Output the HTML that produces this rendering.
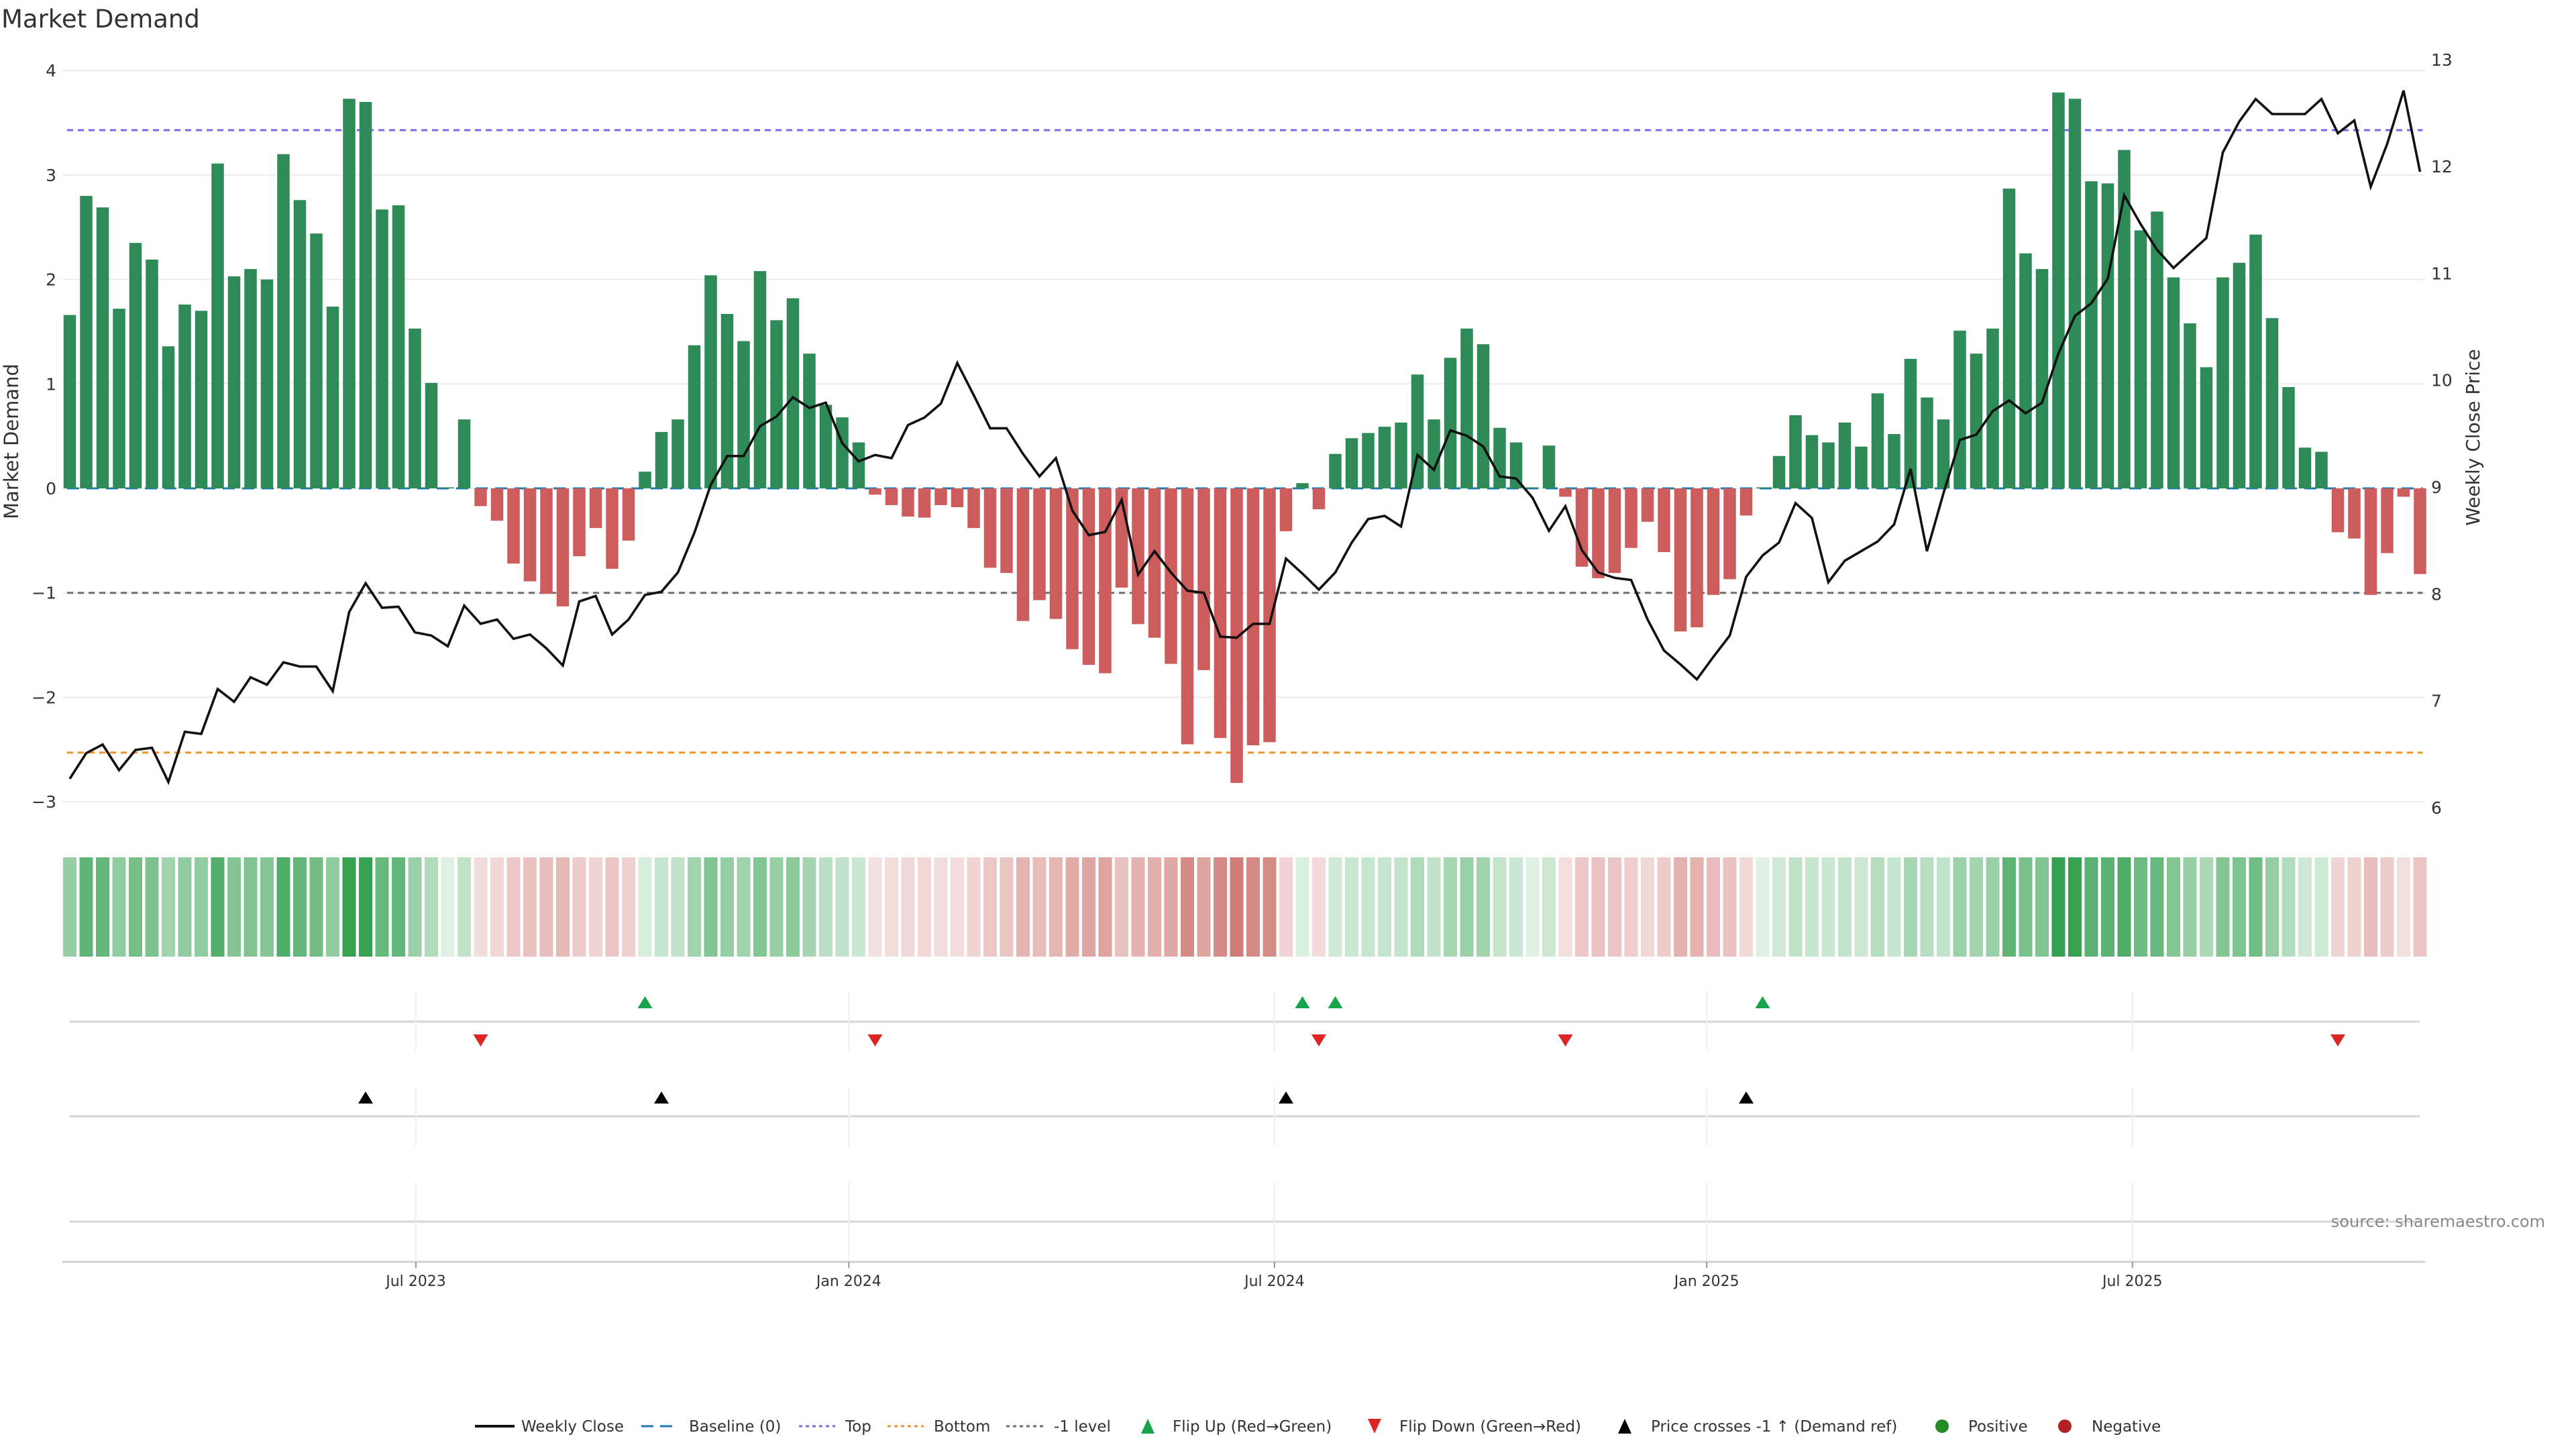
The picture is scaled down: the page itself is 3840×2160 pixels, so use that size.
<!DOCTYPE html>
<html><head><meta charset="utf-8"><title>Market Demand</title>
<style>
html,body{margin:0;padding:0;background:#fff;}
svg{display:block;font-family:"DejaVu Sans","Liberation Sans",sans-serif;}
</style></head>
<body>
<svg id="chart" xmlns="http://www.w3.org/2000/svg" width="3840" height="2160" viewBox="0 0 3840 2160">
<rect x="0" y="0" width="3840" height="2160" fill="#ffffff"/>
<text x="2" y="41" font-size="37" fill="#333">Market Demand</text>
<g id="grid"></g>
<g id="refs"></g>
<g id="bars"></g>
<g id="price"></g>
<g id="axes"></g>
<g id="heat"></g>
<g id="events"></g>
<text x="27" y="658" font-size="29" fill="#333" text-anchor="middle" transform="rotate(-90 27 658)">Market Demand</text>
<text x="3696" y="652" font-size="28" fill="#333" text-anchor="middle" transform="rotate(-90 3696 652)">Weekly Close Price</text>
<text x="3794" y="1829" font-size="24" fill="#888" text-anchor="end">source: sharemaestro.com</text>
<g id="legend"></g>
</svg>
<script>
const demand = [1.66,2.80,2.69,1.72,2.35,2.19,1.36,1.76,1.70,3.11,2.03,2.10,2.00,3.20,2.76,2.44,1.74,3.73,3.70,2.67,
2.71,1.53,1.01,0.01,0.66,-0.17,-0.31,-0.72,-0.89,-1.01,-1.13,-0.65,-0.38,-0.77,-0.50,0.16,0.54,0.66,1.37,2.04,
1.67,1.41,2.08,1.61,1.82,1.29,0.80,0.68,0.44,-0.06,-0.16,-0.27,-0.28,-0.16,-0.18,-0.38,-0.76,-0.81,-1.27,-1.07,
-1.25,-1.54,-1.69,-1.77,-0.95,-1.30,-1.43,-1.68,-2.45,-1.74,-2.39,-2.82,-2.46,-2.43,-0.41,0.05,-0.20,0.33,0.48,0.53,
0.59,0.63,1.09,0.66,1.25,1.53,1.38,0.58,0.44,0.01,0.41,-0.08,-0.75,-0.86,-0.81,-0.57,-0.32,-0.61,-1.37,-1.33,
-1.02,-0.87,-0.26,0.01,0.31,0.70,0.51,0.44,0.63,0.40,0.91,0.52,1.24,0.87,0.66,1.51,1.29,1.53,2.87,2.25,
2.10,3.79,3.73,2.94,2.92,3.24,2.47,2.65,2.02,1.58,1.16,2.02,2.16,2.43,1.63,0.97,0.39,0.35,-0.42,-0.48,
-1.02,-0.62,-0.08,-0.82];
const closePrice = [6.27,6.51,6.59,6.35,6.54,6.56,6.24,6.71,6.69,7.11,6.99,7.22,7.15,7.36,7.32,7.32,7.09,7.83,8.10,7.87,
7.88,7.64,7.61,7.51,7.89,7.72,7.76,7.58,7.62,7.49,7.33,7.93,7.98,7.62,7.76,7.99,8.02,8.20,8.57,9.02,
9.29,9.29,9.57,9.66,9.84,9.74,9.79,9.41,9.24,9.30,9.27,9.58,9.65,9.78,10.16,9.86,9.55,9.55,9.31,9.10,
9.27,8.78,8.55,8.58,8.88,8.18,8.40,8.20,8.03,8.01,7.60,7.59,7.72,7.72,8.33,8.19,8.04,8.20,8.48,8.70,
8.73,8.63,9.30,9.16,9.53,9.48,9.38,9.10,9.08,8.90,8.59,8.82,8.41,8.20,8.15,8.13,7.76,7.47,7.34,7.20,
7.41,7.61,8.16,8.36,8.48,8.85,8.71,8.11,8.31,8.40,8.49,8.65,9.17,8.40,8.94,9.44,9.49,9.71,9.81,9.69,
9.79,10.25,10.60,10.72,10.95,11.73,11.46,11.22,11.05,11.19,11.33,12.13,12.42,12.63,12.49,12.49,12.49,12.63,12.31,12.43,
11.81,12.21,12.71,11.95];
const leftTicks = [4,3,2,1,0,-1,-2,-3];
const leftTickLabels = ["4","3","2","1","0","\u22121","\u22122","\u22123"];
const rightTicks = [13,12,11,10,9,8,7,6];
const dateTickWeeks = [21.06,47.4,73.3,99.6,125.5];
const dateTickLabels = ["Jul 2023","Jan 2024","Jul 2024","Jan 2025","Jul 2025"];
const topLevel = [3.43];
const bottomLevel = [-2.53];
const minusOneLevel = [-1];
const priceRefLevel = [8];

const NS = "http://www.w3.org/2000/svg";
const X0 = 104, STEP = 24.5, PLOT_L = 93, PLOT_R = 3615;
const ZERO_Y = 728, UNIT = 155.7;
const R_MID = 726, R_UNIT = 159.3;
function xAt(i){ return X0 + i*STEP; }
function yL(v){ return ZERO_Y - v*UNIT; }
function yR(p){ return R_MID - (p-9)*R_UNIT; }
function mk(tag, attrs, parent){
  const e = document.createElementNS(NS, tag);
  for (const k in attrs) e.setAttribute(k, attrs[k]);
  parent.appendChild(e); return e;
}
const g = id => document.getElementById(id);

leftTicks.forEach((t, k) => {
  const ln = mk('line', {x1:PLOT_L, x2:PLOT_R, y1:yL(t), y2:yL(t), stroke:'#ececec', 'stroke-width':2}, g('grid'));
  
  
  const tx = mk('text', {x:84, y:yL(t)+9, 'font-size':25, fill:'#333', 'text-anchor':'end'}, g('axes'));
  tx.textContent = leftTickLabels[k];
  
  
});
rightTicks.forEach(t => {
  const tx = mk('text', {x:3624, y:yR(t)+9, 'font-size':25, fill:'#333'}, g('axes'));
  tx.textContent = String(t);
  
  
});

const xs = xAt(0)-4, xe = xAt(demand.length-1)+4;
const bl = mk('line', {x1:xs, x2:xe, y1:yL(0), y2:yL(0), stroke:'#1f77b4', 'stroke-width':3, 'stroke-dasharray':'18 11'}, g('refs'));


const tl = mk('line', {x1:xs, x2:xe, y1:yL(topLevel[0]), y2:yL(topLevel[0]), stroke:'#7b68ee', 'stroke-width':3, 'stroke-dasharray':'9 7'}, g('refs'));


const bt = mk('line', {x1:xs, x2:xe, y1:yL(bottomLevel[0]), y2:yL(bottomLevel[0]), stroke:'#f0932b', 'stroke-width':3, 'stroke-dasharray':'9 7'}, g('refs'));


const ml = mk('line', {x1:xs, x2:xe, y1:yL(minusOneLevel[0]), y2:yL(minusOneLevel[0]), stroke:'#6e6e6e', 'stroke-width':3, 'stroke-dasharray':'9 7'}, g('refs'));



const BW = 18.5;
demand.forEach((v, i) => {
  const y0 = yL(0), y1 = yL(v);
  const r = mk('rect', {x:xAt(i)-BW/2, y:Math.min(y0,y1), width:BW, height:Math.max(0.5,Math.abs(y1-y0)), fill: v>=0 ? '#2e8b57' : '#cd5c5c'}, g('bars'));
  
  
});

const pts = closePrice.map((p,i) => xAt(i).toFixed(1)+','+yR(p).toFixed(1)).join(' ');
const pl = mk('polyline', {points:pts, fill:'none', stroke:'#111', 'stroke-width':3.6, 'stroke-linejoin':'miter'}, g('price'));



const maxAbs = Math.max(...demand.map(Math.abs));
function lerp(a,b,t){ return Math.round(a+(b-a)*t); }
function heatColor(v){
  const t = Math.min(1, Math.abs(v)/maxAbs);
  if (v >= 0) return `rgb(${lerp(222,52,t)},${lerp(241,160,t)},${lerp(226,80,t)})`;
  return `rgb(${lerp(245,195,t)},${lerp(226,90,t)},${lerp(226,82,t)})`;
}
demand.forEach((v,i) => {
  const c = mk('rect', {x:xAt(i)-10, y:1278, width:20, height:148, fill:heatColor(v)}, g('heat'));
  
  
});

[1523,1664,1821].forEach(y => {
  const l = mk('line', {x1:104, x2:3607, y1:y, y2:y, stroke:'#d6d6d6', 'stroke-width':3}, g('events'));
  
  
});
const ax = mk('line', {x1:PLOT_L, x2:PLOT_R, y1:1881, y2:1881, stroke:'#d0d0d0', 'stroke-width':3}, g('events'));


dateTickWeeks.forEach((w,k) => {
  const x = xAt(w);
  [[1478,1566],[1620,1709],[1762,1880]].forEach(s => {
    const v = mk('line', {x1:x, x2:x, y1:s[0], y2:s[1], stroke:'#efefef', 'stroke-width':2}, g('events'));
    
    
  });
  const tk = mk('line', {x1:x, x2:x, y1:1881, y2:1890, stroke:'#999', 'stroke-width':2}, g('events'));
  
  
  const t = mk('text', {x:x, y:1917, 'font-size':22, fill:'#333', 'text-anchor':'middle'}, g('events'));
  t.textContent = dateTickLabels[k];
  
  
});
function tri(x, y, up, color, name){
  const w = 11, h = 9;
  const p = up ? `${x-w},${y+h} ${x+w},${y+h} ${x},${y-h}` : `${x-w},${y-h} ${x+w},${y-h} ${x},${y+h}`;
  const e = mk('polygon', {points:p, fill:color}, g('events'));
  
  
}
for (let i = 1; i < demand.length; i++){
  if (demand[i] > 0 && demand[i-1] <= 0) tri(xAt(i), 1494, true, '#16a34a', 'flip-up-marker');
  if (demand[i] < 0 && demand[i-1] >= 0) tri(xAt(i), 1551, false, '#dc2626', 'flip-down-marker');
  if (closePrice[i] >= priceRefLevel[0] && closePrice[i-1] < priceRefLevel[0]) tri(xAt(i), 1636, true, '#000', 'price-cross-marker');
}

const LY = 2126, L = g('legend');
function ltext(x, s){
  const t = mk('text', {x:x, y:LY+8, 'font-size':23, fill:'#333'}, L);
  t.textContent = s;
  
  
}
function lline(x1, x2, color, dash, w){
  const l = mk('line', {x1:x1, x2:x2, y1:LY, y2:LY, stroke:color, 'stroke-width':w}, L);
  if (dash) l.setAttribute('stroke-dasharray', dash);
  
  
}
lline(708,767,'#111',null,4); ltext(777,'Weekly Close');
lline(956,1010,'#1f77b4','18 10',3); ltext(1027,'Baseline (0)');
lline(1191,1245,'#7b68ee','5 5',3); ltext(1260,'Top');
lline(1323,1377,'#f0932b','5 5',3); ltext(1392,'Bottom');
lline(1500,1556,'#6e6e6e','5 5',3); ltext(1571,'-1 level');
function ltri(x, up, color){
  const w=10,h=11;
  const p = up ? `${x-w},${LY+h} ${x+w},${LY+h} ${x},${LY-h}` : `${x-w},${LY-h} ${x+w},${LY-h} ${x},${LY+h}`;
  const e = mk('polygon', {points:p, fill:color}, L);
  
  
}
ltri(1711,true,'#16a34a'); ltext(1748,'Flip Up (Red\u2192Green)');
ltri(2049,false,'#dc2626'); ltext(2086,'Flip Down (Green\u2192Red)');
ltri(2422,true,'#000'); ltext(2461,'Price crosses -1 \u2191 (Demand ref)');
const c1 = mk('circle', {cx:2895, cy:LY, r:10, fill:'#228b22'}, L);


ltext(2934,'Positive');
const c2 = mk('circle', {cx:3078, cy:LY, r:10, fill:'#b22222'}, L);


ltext(3118,'Negative');
</script>
</body></html>
